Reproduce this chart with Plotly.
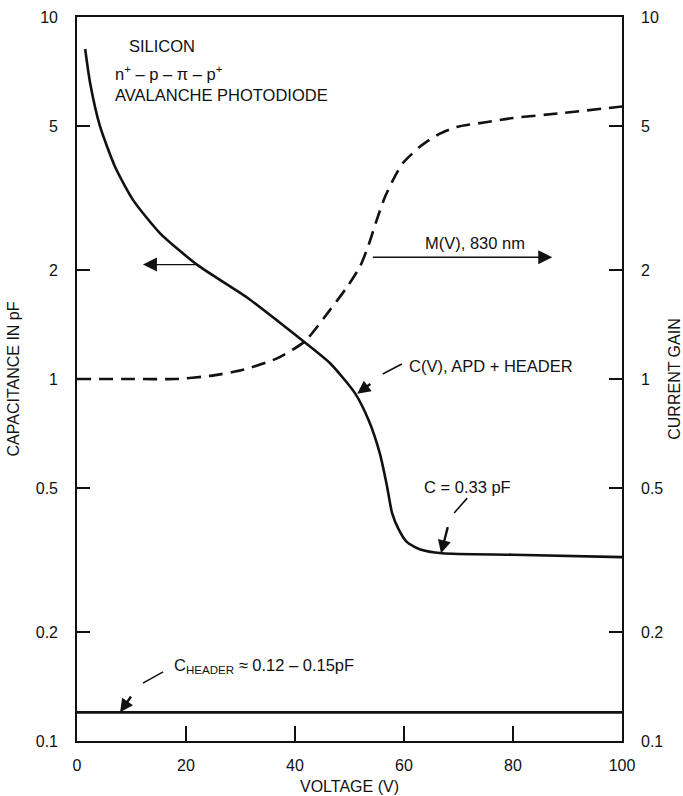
import numpy as np
import plotly.graph_objects as go

# Bias voltage (V) and capacitance C(V) of APD + header (pF)
cap_voltage = [1.5, 2.4, 4.2, 7.0, 10.3, 15.2, 22.0, 31.2, 37.0, 41.6,
               46.4, 51.0, 53.5, 55.6, 56.9, 57.8, 59.0, 60.5, 63.0, 67.0, 80.0, 100.0]
cap_pf = [8.16, 6.58, 5.0, 3.85, 3.12, 2.53, 2.07, 1.68, 1.44, 1.27,
          1.107, 0.914, 0.77, 0.62, 0.504, 0.427, 0.385, 0.355, 0.338, 0.33, 0.327, 0.322]

# Current gain M(V) at 830 nm
gain_voltage = [0, 10, 18, 24.4, 30.5, 36.7, 41.8, 46.4, 49.5, 51.9, 53.4, 55.0,
                56.5, 58.0, 59.8, 62.9, 66.1, 69.7, 75.0, 80.0, 89.2, 100.0]
gain = [1.0, 1.0, 1.0, 1.02, 1.06, 1.14, 1.27, 1.55, 1.79, 2.04, 2.32, 2.75,
        3.18, 3.55, 3.95, 4.38, 4.72, 4.97, 5.12, 5.26, 5.43, 5.66]

# Header capacitance alone
header_voltage = [0, 100]
header_pf = [0.12, 0.12]

# Log-axis ticks
log_tickvals = [0.1, 0.2, 0.5, 1, 2, 5, 10]
log_ticktext = ["0.1", "0.2", "0.5", "1", "2", "5", "10"]
volt_tickvals = [0, 20, 40, 60, 80, 100]

FONT = "Liberation Sans, Arial, Helvetica, sans-serif"
INK = "#111111"
lg = np.log10

fig = go.Figure()

fig.add_trace(go.Scatter(
    x=cap_voltage, y=cap_pf, mode="lines", yaxis="y",
    line=dict(color=INK, width=2.6, shape="spline", smoothing=0.6),
    showlegend=False, hoverinfo="skip"))

fig.add_trace(go.Scatter(
    x=gain_voltage, y=gain, mode="lines", yaxis="y2",
    line=dict(color=INK, width=2.6, dash="14px,8px", shape="spline", smoothing=0.6),
    showlegend=False, hoverinfo="skip"))

fig.add_trace(go.Scatter(
    x=header_voltage, y=header_pf, mode="lines", yaxis="y",
    line=dict(color=INK, width=2.6),
    showlegend=False, hoverinfo="skip"))

annotations = []
shapes = []


def text(x, y, s, anchor="left", size=16.5):
    annotations.append(dict(
        x=x, y=y, xref="x", yref="y", text=s, showarrow=False,
        xanchor=anchor, yanchor="middle",
        font=dict(family=FONT, size=size, color=INK)))


def arrow(x_tip, y_tip, x_tail, y_tail, width=1.4, size=2.0):
    # y_tip / y_tail in log10 units (annotation convention on log axes)
    annotations.append(dict(
        x=x_tip, y=y_tip, ax=x_tail, ay=y_tail,
        xref="x", yref="y", axref="x", ayref="y",
        text="", showarrow=True, arrowhead=2, arrowsize=size,
        arrowwidth=width, arrowcolor=INK, standoff=0, startstandoff=0))


def leader(x0, y0, x1, y1):
    # short dash of a callout, y in data units
    shapes.append(dict(type="line", xref="x", yref="y", x0=x0, y0=y0, x1=x1, y1=y1,
                       line=dict(color=INK, width=1.6)))


# Device description
text(9.2, 0.92, "SILICON")
text(6.6, 0.845, "n<sup>+</sup> – p – π – p<sup>+</sup>")
text(6.6, 0.7845, "AVALANCHE PHOTODIODE")

# Axis pointers for the two curves
arrow(12.1, lg(2.07), 22.0, lg(2.07))
arrow(87.2, lg(2.17), 54.0, lg(2.17))
text(73.0, 0.376, "M(V), 830 nm", anchor="center")

# C(V) label with dashed leader
text(60.6, 0.036, "C(V), APD + HEADER")
leader(59.6, 10 ** 0.0414, 56.1, 10 ** 0.0138)
arrow(51.4, lg(0.91), 54.1, -0.011, width=2.4, size=1.1)

# Plateau label
text(71.6, -0.298, "C = 0.33 pF", anchor="center")
leader(71.6, 10 ** -0.329, 69.2, 10 ** -0.370)
arrow(66.8, lg(0.33), 68.1, -0.405, width=2.4, size=1.1)

# Header label
text(17.4, -0.793, "C<sub>HEADER</sub> ≈ 0.12 – 0.15pF")
leader(15.8, 10 ** -0.809, 12.1, 10 ** -0.840)
arrow(7.9, lg(0.12), 10.1, -0.873, width=2.4, size=1.1)

axis_common = dict(
    showgrid=False, zeroline=False, showline=True, linecolor=INK, linewidth=1.6,
    ticks="inside", tickcolor=INK, tickwidth=1.6, automargin=False,
    tickfont=dict(family=FONT, size=16, color=INK))

title_font = dict(family=FONT, size=16, color=INK)

fig.update_layout(
    width=683, height=796,
    margin=dict(l=77, r=61, t=17, b=55),
    paper_bgcolor="white", plot_bgcolor="white",
    font=dict(family=FONT, color=INK),
    xaxis=dict(range=[0, 100], tickvals=volt_tickvals, ticklen=15,
               mirror=True, ticklabelstandoff=9,
               title=dict(text="VOLTAGE (V)", standoff=8, font=title_font),
               **axis_common),
    yaxis=dict(type="log", range=[-1, 1], tickvals=log_tickvals,
               ticktext=log_ticktext, ticklen=13, ticklabelstandoff=14,
               title=dict(text="CAPACITANCE IN pF", standoff=12, font=title_font),
               **axis_common),
    yaxis2=dict(type="log", range=[-1, 1], tickvals=log_tickvals,
                ticktext=log_ticktext, ticklen=13, ticklabelstandoff=14,
                overlaying="y", side="right",
                title=dict(text="CURRENT GAIN", standoff=14, font=title_font),
                **axis_common),
    annotations=annotations,
    shapes=shapes,
)

fig.write_html("out.html")
